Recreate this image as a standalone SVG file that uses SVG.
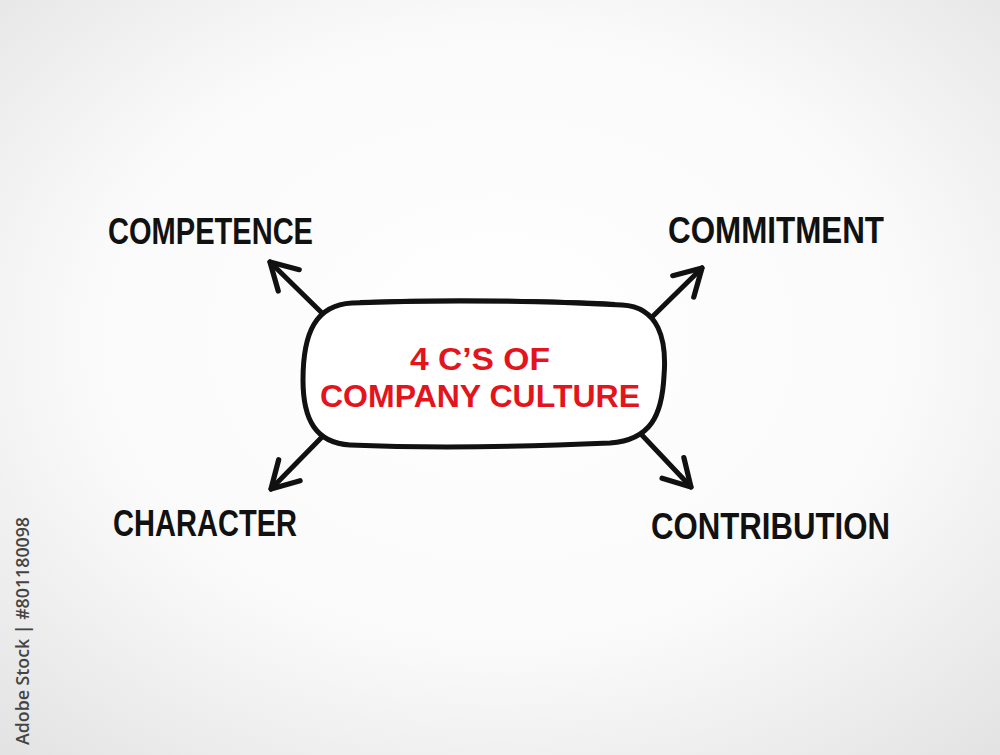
<svg xmlns="http://www.w3.org/2000/svg" width="1000" height="755" viewBox="0 0 1000 755">
  <defs>
    <radialGradient id="bg" cx="50%" cy="45%" r="75%">
      <stop offset="0" stop-color="#ffffff"/>
      <stop offset="0.55" stop-color="#fafafa"/>
      <stop offset="1" stop-color="#e2e2e2"/>
    </radialGradient>
    <marker id="arrow" viewBox="0 0 20 20" refX="17" refY="10" markerWidth="7.5" markerHeight="7.5" markerUnits="strokeWidth" orient="auto">
      <path d="M 3 2 L 17 10 L 3 18" fill="none" stroke="#111" stroke-width="2.8" stroke-linecap="round" stroke-linejoin="round"/>
    </marker>
    <style>
      .lbl { font-family: "Liberation Sans", Arial, sans-serif; font-weight: bold; font-size: 37px; fill: #111; }
      .ctr { font-family: "Liberation Sans", Arial, sans-serif; font-weight: bold; font-size: 32px; fill: #e3141b; }
      .conn { fill: none; stroke: #111; stroke-width: 5; stroke-linecap: round; marker-end: url(#arrow); }
      .wm { font-family: "Open Sans", "Liberation Sans", sans-serif; font-weight: 600; font-size: 18px; fill: #444; }
    </style>
  </defs>
  <rect width="1000" height="755" fill="url(#bg)"/>

  <g id="connectors">
    <path class="conn" d="M 322 313 L 270 262"/>
    <path class="conn" d="M 648 321 L 702 268"/>
    <path class="conn" d="M 322 437 L 271 489"/>
    <path class="conn" d="M 640 433 L 691 487"/>
  </g>

  <g id="center">
    <path d="M 352 303 C 450 299 560 302 622 305 C 659 307 667 340 664 376 C 662 415 651 440 610 443 C 520 447 420 448 350 445 C 316 443 303 420 303 380 C 303 332 316 305 352 303 Z" fill="#ffffff" stroke="#111" stroke-width="5" stroke-linejoin="round"/>
    <path d="M 360 301 C 460 298 560 300 615 303" fill="none" stroke="#111" stroke-width="2"/>
    <text class="ctr" x="480" y="370" text-anchor="middle" textLength="140" lengthAdjust="spacingAndGlyphs">4 C’S OF</text>
    <text class="ctr" x="480" y="407" text-anchor="middle" textLength="320" lengthAdjust="spacingAndGlyphs">COMPANY CULTURE</text>
  </g>

  <g id="competence">
    <text class="lbl" x="108" y="244" textLength="205" lengthAdjust="spacingAndGlyphs">COMPETENCE</text>
  </g>
  <g id="commitment">
    <text class="lbl" x="668" y="243" textLength="216" lengthAdjust="spacingAndGlyphs">COMMITMENT</text>
  </g>
  <g id="character">
    <text class="lbl" x="113" y="536" textLength="184" lengthAdjust="spacingAndGlyphs">CHARACTER</text>
  </g>
  <g id="contribution">
    <text class="lbl" x="651" y="539" textLength="239" lengthAdjust="spacingAndGlyphs">CONTRIBUTION</text>
  </g>

  <text class="wm" transform="translate(29 745) rotate(-90)" textLength="228" lengthAdjust="spacingAndGlyphs">Adobe Stock | #801180098</text>
</svg>
